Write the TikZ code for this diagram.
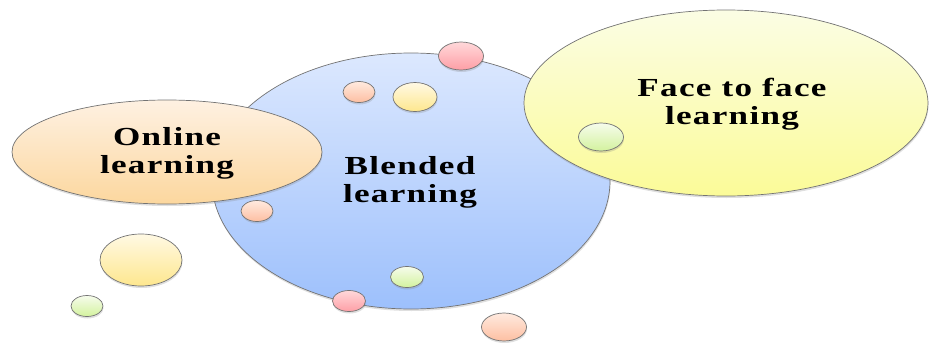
\documentclass[tikz,border=0pt]{standalone}
\usepackage{fontspec}
\newfontfamily\bubblefont[FakeStretch=1.35,LetterSpace=5]{Liberation Serif}
\usetikzlibrary{shadows}

\definecolor{blueTop}{HTML}{DCE8FE}
\definecolor{blueBot}{HTML}{9DC0FC}
\definecolor{orangeTop}{HTML}{FEF1E2}
\definecolor{orangeBot}{HTML}{FCD79E}
\definecolor{yellowTop}{HTML}{FBFDE4}
\definecolor{yellowBot}{HTML}{FBFB98}
\definecolor{pinkTop}{HTML}{FFD8DA}
\definecolor{pinkBot}{HTML}{FE9FA6}
\definecolor{peachTop}{HTML}{FFEADF}
\definecolor{peachBot}{HTML}{FDBFA2}
\definecolor{sandTop}{HTML}{FFF9E4}
\definecolor{sandBot}{HTML}{FEE78E}
\definecolor{greenTop}{HTML}{F6FCEC}
\definecolor{greenBot}{HTML}{D3F29E}

\tikzset{
  blob/.style={draw=black!55, line width=0.7pt,
    drop shadow={shadow xshift=0.5pt, shadow yshift=-2pt, opacity=0.25}},
  bluefill/.style={top color=blueTop, bottom color=blueBot},
  orangefill/.style={top color=orangeTop, bottom color=orangeBot},
  yellowfill/.style={top color=yellowTop, bottom color=yellowBot},
  pinkfill/.style={top color=pinkTop, bottom color=pinkBot},
  peachfill/.style={top color=peachTop, bottom color=peachBot},
  sandfill/.style={top color=sandTop, bottom color=sandBot},
  greenfill/.style={top color=greenTop, bottom color=greenBot},
  bigtext/.style={align=center, font=\bubblefont\bfseries\fontsize{26}{28}\selectfont}
}

\begin{document}
\begin{tikzpicture}[x=1pt, y=-1pt]
  \useasboundingbox (0,0) rectangle (930,343);

  % big bubbles
  \draw[blob, bluefill] (411,181) ellipse [x radius=199, y radius=128];
  \draw[blob, orangefill] (167,152) ellipse [x radius=155, y radius=52];
  \draw[blob, yellowfill] (726,103) ellipse [x radius=202, y radius=93];

  % small bubbles
  \draw[blob, pinkfill] (461,56) ellipse [x radius=22.5, y radius=14];
  \draw[blob, peachfill] (359,92) ellipse [x radius=16, y radius=10.5];
  \draw[blob, sandfill] (415,97) ellipse [x radius=22, y radius=14.5];
  \draw[blob, greenfill] (601,137) ellipse [x radius=22.5, y radius=14];
  \draw[blob, peachfill] (257,211) ellipse [x radius=16, y radius=10.5];
  \draw[blob, sandfill] (141,260) ellipse [x radius=41, y radius=26];
  \draw[blob, greenfill] (87,306) ellipse [x radius=16, y radius=10.5];
  \draw[blob, greenfill] (407,277) ellipse [x radius=16.5, y radius=10.5];
  \draw[blob, pinkfill] (349,301) ellipse [x radius=16.5, y radius=10.5];
  \draw[blob, peachfill] (504,327) ellipse [x radius=22.5, y radius=14];

  % labels
  \node[bigtext] (online) at (167,153) {Online\\learning};
  \node[bigtext] (blended) at (410,182) {Blended\\learning};
  \node[bigtext] (face) at (732,104) {Face to face\\learning};
\end{tikzpicture}
\end{document}
